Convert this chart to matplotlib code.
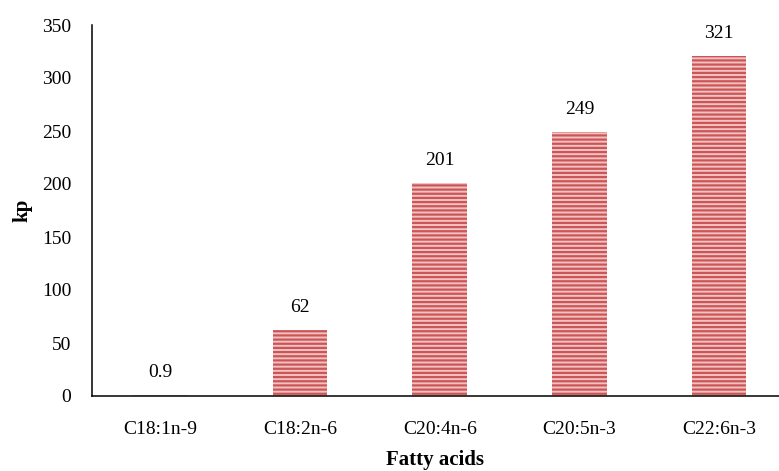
import matplotlib
matplotlib.use("Agg")
import matplotlib.pyplot as plt

categories = ["C18:1n-9", "C18:2n-6", "C20:4n-6", "C20:5n-3", "C22:6n-3"]
values = [0.9, 62, 201, 249, 321]
value_labels = ["0.9", "62", "201", "249", "321"]
yticks = [0, 50, 100, 150, 200, 250, 300, 350]

plt.rcParams['font.family'] = ['Liberation Serif', 'DejaVu Serif']
plt.rcParams['hatch.linewidth'] = 1.6

fig = plt.figure(figsize=(7.79, 4.71), dpi=100)
ax = fig.add_axes([92 / 779, 75 / 471, 1 - 92 / 779, (396 - 25) / 471])

x = list(range(len(categories)))
bars = ax.bar(x, values, width=0.39, color="#f2c2c2", edgecolor="#cb5557",
              hatch="----", linewidth=0)

for xi, v, lab in zip(x, values, value_labels):
    ax.text(xi, v + 13, lab, ha="center", va="bottom", fontsize=14)

ax.set_xlim(-0.49, 4.43)
ax.set_ylim(0, 350)
ax.set_yticks(yticks)
ax.set_xticks(x)
ax.set_xticklabels(categories)
ax.tick_params(axis="both", length=0, labelsize=14)
ax.tick_params(axis="x", pad=18)
ax.tick_params(axis="y", pad=15)

for s in ["top", "right"]:
    ax.spines[s].set_visible(False)
ax.spines["left"].set_linewidth(1.1)
ax.spines["bottom"].set_linewidth(1.1)

ax.set_ylabel("kp", fontsize=15, fontweight="bold", labelpad=7)
ax.set_xlabel("Fatty acids", fontsize=15, fontweight="bold", labelpad=8.5)

fig.savefig("out.png", dpi=100)
